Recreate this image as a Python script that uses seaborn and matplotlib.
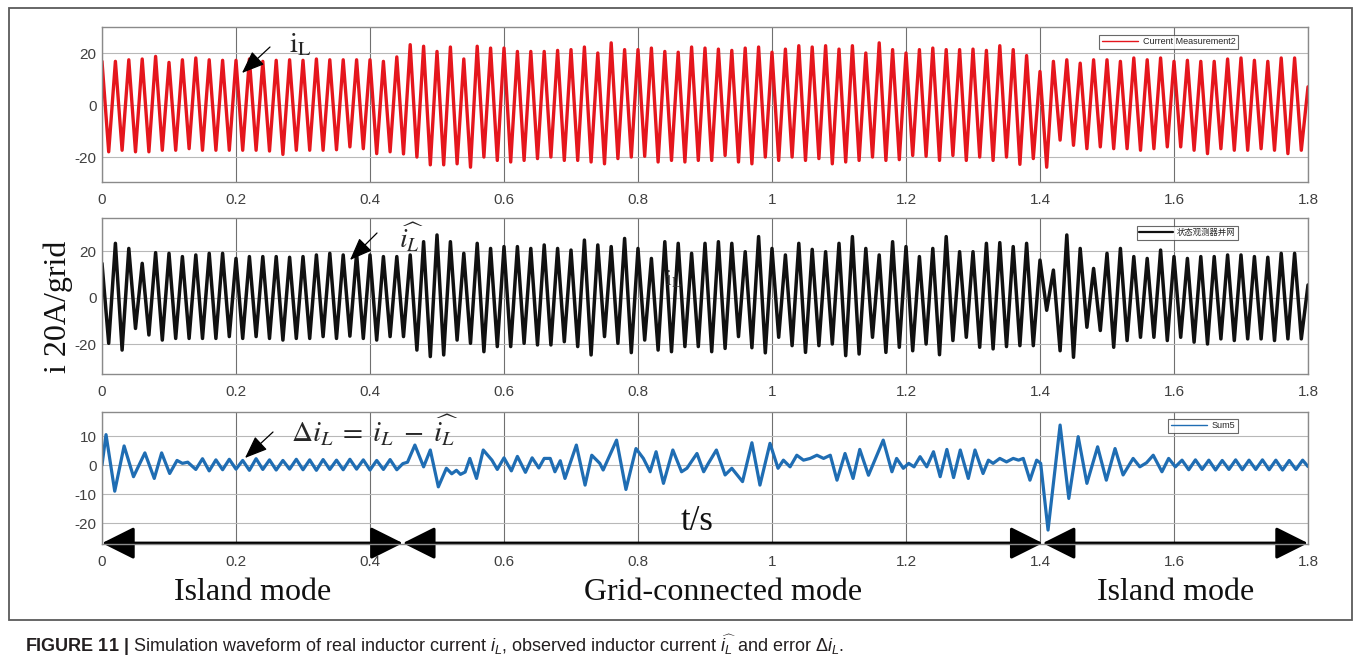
import numpy as np
import pandas as pd
import matplotlib
matplotlib.use("Agg")
import matplotlib.pyplot as plt
import seaborn as sns
from matplotlib.patches import FancyArrowPatch, Rectangle
from matplotlib.font_manager import FontProperties

# ---------------- data ----------------
half_cycle = 0.01  # extrema of the 50 Hz current come every half period

# real inductor current i_L: positive and negative peak of each cycle
iL_peaks = [16.8, 16.8, 17.4, 17.7, 18.7, 16.4, 17.4, 18.1, 17.4, 17.2, 17.2, 17.7, 16.8, 17.2, 17.4,
            17.2, 17.7, 17.4, 17.4, 17.4, 17.4, 16.8, 18.5,
            23.2, 22.6, 20.6, 22.3, 17.7, 22.6, 21.9, 21.9, 20.6, 20.6, 20.6, 21.0, 21.3, 22.3, 20.0,
            23.9, 21.3, 21.3, 21.9, 20.6, 20.3, 22.3, 21.9, 21.5, 21.0, 21.9, 22.3, 20.3, 21.5, 22.8,
            22.3, 22.8, 21.5, 22.8,
            20.0, 23.9, 21.3, 20.0, 21.3, 21.9, 21.3, 21.3, 21.5, 21.0, 22.8, 21.3, 19.0,
            12.9,
            16.8, 17.4, 16.1, 17.4, 17.4, 16.8, 18.1, 17.4, 18.1, 16.8, 17.2, 16.8, 16.8, 17.7, 18.1,
            17.2, 16.8, 18.1, 18.1]
iL_troughs = [-18.0, -17.4, -18.0, -18.0, -17.4, -17.4, -16.8, -17.4, -17.4, -17.4, -17.4, -17.4, -17.7,
              -19.0, -17.4, -17.4, -17.4, -17.2, -16.1, -16.8, -18.7,
              -18.0, -18.8, -20.0, -23.0, -23.0, -22.6, -23.9,
              -20.0, -21.3, -21.9, -21.3, -20.6, -20.0, -21.3, -21.3, -21.9, -22.6, -20.6, -20.0, -19.7,
              -21.9, -21.3, -21.9, -21.3, -21.3, -19.4, -21.9, -22.6, -20.0, -21.3, -20.0, -21.3, -20.6,
              -22.6, -21.9,
              -21.3, -20.0, -21.3, -21.0, -19.4, -19.7, -21.3, -19.4, -21.3, -20.0, -21.3, -20.0, -22.8,
              -20.6, -23.9,
              -13.5, -15.5, -16.8, -16.1, -16.8, -16.8, -17.4, -16.8, -16.1, -16.1, -17.4, -18.7, -16.8,
              -17.4, -17.4, -16.8, -17.4, -18.7, -17.4]
iL_end = 7.0

# observed inductor current
obs_peaks = [14.7, 23.3, 21.1, 14.7, 19.3, 19.0, 17.6, 18.3, 19.0, 19.0, 16.8, 17.6, 17.6, 17.6, 17.3,
             17.6, 18.3, 19.0, 18.3, 19.0, 18.3,
             17.6, 17.6, 18.3, 24.0, 26.9, 24.0, 19.0, 23.3, 21.1, 21.9, 21.9, 21.1, 22.6, 21.1, 20.4,
             24.7, 22.6, 21.9, 25.4, 21.1, 16.8, 24.0, 23.3, 19.0, 23.3, 24.0, 23.3, 19.7, 26.2, 21.1,
             18.3, 23.3, 20.7, 19.7, 23.3, 26.2, 21.1, 18.3, 24.0, 21.9, 17.6, 21.1, 26.2, 19.7, 19.7,
             23.3, 23.6, 21.9, 23.3,
             16.1, 11.8, 26.9, 21.1, 12.5, 19.0, 21.1, 17.6, 16.8, 20.4, 17.6, 16.8, 17.6, 17.6, 18.3,
             18.3, 17.6, 17.3, 19.0, 19.0]
obs_troughs = [-19.7, -22.6, -13.3, -16.1, -18.3, -17.6, -17.6, -17.6, -17.6, -16.8, -17.6, -16.8, -17.6,
               -18.3, -17.6, -17.6, -16.8, -17.6, -16.6, -17.6, -18.3,
               -16.8, -16.8, -22.6, -25.4, -24.7, -18.3, -19.7, -23.3, -21.1, -21.1, -19.7, -20.4, -20.4,
               -19.0, -21.1, -24.7, -16.8, -19.7, -23.7, -18.3, -22.6, -23.3, -21.1, -21.1, -23.3, -21.9,
               -16.8, -21.6, -23.8,
               -17.1, -20.7, -23.6, -20.7, -20.0, -25.0, -24.3, -17.1, -23.6, -21.4, -22.9, -20.0, -24.6,
               -18.5, -17.1, -21.4, -22.1, -21.1, -20.7, -20.7,
               -5.5, -22.9, -25.7, -12.8, -14.2, -21.4, -18.5, -17.1, -17.1, -18.5, -17.1, -19.2, -20.0,
               -17.8, -18.5, -17.8, -17.8, -18.5, -17.8, -17.8]
obs_end = 5.4

# estimation error: turning points (time in s, value in A)
err_t = [0.000, 0.006, 0.019, 0.033, 0.047, 0.064, 0.078, 0.089, 0.101, 0.112, 0.120, 0.128, 0.140,
         0.150, 0.160,
         0.170, 0.180, 0.190, 0.200, 0.210, 0.220, 0.230, 0.240, 0.250, 0.260, 0.270, 0.280, 0.290,
         0.300, 0.310, 0.320, 0.330, 0.340, 0.350, 0.360, 0.370, 0.380, 0.390, 0.400, 0.410, 0.420,
         0.430, 0.440,
         0.449, 0.456, 0.467, 0.480, 0.490, 0.502, 0.514, 0.522, 0.529, 0.535, 0.542, 0.549, 0.559,
         0.569, 0.582,
         0.590, 0.600, 0.611, 0.620, 0.632, 0.642, 0.652, 0.660,
         0.669, 0.676, 0.684, 0.691, 0.708, 0.721, 0.731, 0.743, 0.748, 0.768, 0.782, 0.797, 0.808,
         0.818, 0.827, 0.838, 0.852, 0.865, 0.873, 0.888, 0.898, 0.905, 0.917, 0.930, 0.940, 0.956,
         0.970, 0.982, 0.997, 1.009, 1.017, 1.027, 1.037, 1.047, 1.057, 1.067, 1.077, 1.087, 1.097,
         1.109, 1.121, 1.131, 1.144, 1.166, 1.179, 1.186, 1.196, 1.204, 1.212, 1.221, 1.231, 1.241,
         1.251, 1.261, 1.271, 1.281, 1.293, 1.303, 1.315, 1.323, 1.330, 1.340, 1.350, 1.360, 1.368,
         1.375, 1.385, 1.395, 1.401,
         1.412, 1.430, 1.443, 1.457, 1.470, 1.486, 1.499, 1.512, 1.524, 1.539, 1.549, 1.559, 1.569,
         1.582, 1.592, 1.602,
         1.612, 1.622, 1.632, 1.642, 1.652, 1.662, 1.672, 1.682, 1.692, 1.702, 1.712, 1.722, 1.732,
         1.742, 1.752, 1.762, 1.772, 1.782, 1.792, 1.800]
err_v = [0.0, 10.5, -9.0, 6.6, -4.0, 4.2, -4.6, 4.2, -2.9, 1.6, 0.6, 1.0, -1.5, 2.2, -2.0,
         1.8, -1.6, 2.0, -1.4, 1.6, -1.8, 2.2, -1.5, 1.8, -1.7, 1.6, -1.4, 2.0, -1.6, 1.8, -1.8, 1.9,
         -1.5, 1.7, -1.6, 2.0, -1.4, 1.8, -1.7, 1.6, -1.5, 1.9, -1.6,
         0.5, 1.0, 6.9, -0.6, 5.2, -7.5, -1.1, -3.0, -1.8, -3.2, -2.4, 2.3, -4.6,
         5.2, 1.7,
         -1.5, 2.5, -2.0, 3.0, -2.5, 2.5, -1.0, 2.3,
         2.3, -2.3, 1.5, -4.6, 6.9, -6.9, 3.4, 0.6, -1.7, 8.6, -8.4, 5.7, 2.3,
         -2.3, 4.6, -6.3, 5.2, -2.3, -1.1, 4.0, -2.3, 0.6, 5.2, -3.4, -1.1, -5.7,
         7.7, -6.9, 7.5, -1.1, 1.7, -0.6, 3.4, 1.7, 2.3, 3.4, 2.3, 3.4, -5.2,
         4.0, -4.6, 5.4, -3.5, 8.6, -2.3, 2.3, -1.1, 0.6, -0.6, 2.9, -0.6, 4.6,
         -4.0, 5.4, -4.3, 5.2, -4.6, 5.2, -2.9, 1.7, 0.6, 2.3, 1.1, 2.3, 1.7,
         2.3, -5.2, 1.7, 0.6,
         -22.4, 13.8, -11.5, 9.8, -6.3, 6.3, -5.2, 5.7, -3.4, 2.3, -0.6, 0.8, 3.4,
         -2.3, 2.3, -0.6,
         1.7, -1.6, 1.8, -1.5, 1.7, -1.7, 1.6, -1.5, 1.8, -1.6, 1.7, -1.5, 1.8,
         -1.6, 1.7, -1.7, 1.6, -1.5, 1.7, -0.5]

x_ticks = [0, 0.2, 0.4, 0.6, 0.8, 1.0, 1.2, 1.4, 1.6, 1.8]
x_tick_labels = ["0", "0.2", "0.4", "0.6", "0.8", "1", "1.2", "1.4", "1.6", "1.8"]
y_ticks_current = [-20, 0, 20]
y_ticks_error = [-20, -10, 0, 10]
mode_bounds = [0.0, 0.449, 1.404, 1.8]
mode_labels = ["Island mode", "Grid-connected mode", "Island mode"]
legend_labels = ["Current Measurement2", "状态观测器并网", "Sum5"]

# ---------------- styling ----------------
sns.set_theme(style="white")
plt.rcParams["font.family"] = ["Liberation Sans", "Noto Sans CJK SC", "DejaVu Sans"]
plt.rcParams["axes.unicode_minus"] = False
plt.rcParams["mathtext.fontset"] = "custom"
plt.rcParams["mathtext.rm"] = "Liberation Sans"
plt.rcParams["mathtext.it"] = "Liberation Sans:italic"
plt.rcParams["mathtext.bf"] = "Liberation Sans:bold"

W, H = 1355, 666
fig = plt.figure(figsize=(W / 100, H / 100), dpi=100)
fig.patch.set_facecolor("white")


def px(x, y):
    return (x / W, 1 - y / H)


def axes_box(left, top, right, bottom):
    return [left / W, 1 - bottom / H, (right - left) / W, (bottom - top) / H]


def extrema_frame(peaks, troughs, end):
    vals = np.empty(2 * len(peaks) + 1)
    vals[0:-1:2] = peaks
    vals[1:-1:2] = troughs
    vals[-1] = end
    return pd.DataFrame({"t": np.arange(len(vals)) * half_cycle, "i": vals})


ax1 = fig.add_axes(axes_box(102, 27, 1308, 182))
ax2 = fig.add_axes(axes_box(102, 218, 1308, 374))
ax3 = fig.add_axes(axes_box(102, 412, 1308, 544))

df1 = extrema_frame(iL_peaks, iL_troughs, iL_end)
df2 = extrema_frame(obs_peaks, obs_troughs, obs_end)
df3 = pd.DataFrame({"t": err_t, "i": err_v})

sns.lineplot(data=df1, x="t", y="i", ax=ax1, color="#e5161d", lw=2.4, estimator=None,
             label=legend_labels[0])
sns.lineplot(data=df2, x="t", y="i", ax=ax2, color="#111111", lw=2.5, estimator=None,
             label=legend_labels[1])
sns.lineplot(data=df3, x="t", y="i", ax=ax3, color="#1f6db3", lw=2.3, estimator=None,
             label=legend_labels[2])

limits = [(-29.6, 30.0), (-32.9, 34.2), (-27.2, 18.3)]
yticks = [y_ticks_current, y_ticks_current, y_ticks_error]
for ax, lim, yt in zip([ax1, ax2, ax3], limits, yticks):
    ax.set_xlim(0, 1.8)
    ax.set_ylim(*lim)
    ax.set_xticks(x_ticks)
    ax.set_xticklabels(x_tick_labels)
    ax.set_yticks(yt)
    ax.set_xlabel("")
    ax.set_ylabel("")
    ax.set_axisbelow(True)
    ax.xaxis.grid(True, color="#707070", lw=0.8)
    ax.yaxis.grid(True, color="#b8b8b8", lw=0.8)
    ax.tick_params(axis="both", length=0, labelsize=11, colors="#404040")
    ax.tick_params(axis="x", pad=8)
    ax.tick_params(axis="y", pad=4)
    for s in ax.spines.values():
        s.set_color("#8a8a8a")
        s.set_linewidth(1.0)

legend_widths = [1.0, 1.6, 1.0]
legend_fonts = [FontProperties(family="Liberation Sans", size=6.5),
                FontProperties(family="Noto Sans CJK SC", size=6.0),
                FontProperties(family="Liberation Sans", size=6.5)]
for ax, lw, fp in zip([ax1, ax2, ax3], legend_widths, legend_fonts):
    leg = ax.legend(loc="upper right", bbox_to_anchor=(0.942, 0.95), prop=fp, frameon=True,
                    fancybox=False, edgecolor="#444444", handlelength=4.0, borderpad=0.3,
                    handletextpad=0.5, borderaxespad=0)
    leg.get_frame().set_linewidth(0.8)
    for line in leg.get_lines():
        line.set_linewidth(lw)

# operating mode spans under the error trace
y_arrow = -26.9
for a, b in zip(mode_bounds[:-1], mode_bounds[1:]):
    arr = FancyArrowPatch((a, y_arrow), (b, y_arrow),
                          arrowstyle="<|-|>,head_length=2.0,head_width=1.0",
                          mutation_scale=10, lw=2.2, color="black",
                          shrinkA=0, shrinkB=0, transform=ax3.transData, clip_on=False)
    ax3.add_artist(arr)

serif = "Liberation Serif"
for (a, b), lab in zip(zip(mode_bounds[:-1], mode_bounds[1:]), mode_labels):
    ax3.text((a + b) / 2, -0.37, lab, transform=ax3.get_xaxis_transform(),
             family=serif, fontsize=23, ha="center", va="center", color="#111111")

fig.text(*px(58, 307), "i 20A/grid", rotation=90, family=serif, fontsize=23,
         ha="center", va="center", color="#111111")
fig.text(*px(697, 522), "t/s", family=serif, fontsize=25, ha="center", va="center",
         color="#111111")

# trace labels with pointers
fig.text(*px(300, 44), r"$\mathrm{i}_{\mathrm{L}}$", fontsize=21, ha="center", va="center",
         math_fontfamily="stix")
fig.text(*px(411, 238), r"$\widehat{i_L}$", fontsize=20, ha="center", va="center",
         math_fontfamily="stix")
fig.text(*px(673, 279), r"$\mathrm{i}_{\mathrm{L}}$", fontsize=15, ha="center", va="center",
         math_fontfamily="stix", color="#333333")
fig.text(*px(375, 431), r"$\Delta i_L\;=\;i_L\;-\;\widehat{i_L}$", fontsize=21, ha="center",
         va="center", math_fontfamily="stix")

for tail, tip in [((270, 47), (242, 73)), ((377, 233), (350, 260)), ((273, 432), (245, 458))]:
    fig.add_artist(FancyArrowPatch(px(*tail), px(*tip), transform=fig.transFigure,
                                   arrowstyle="-|>,head_length=1.4,head_width=0.55",
                                   mutation_scale=10, lw=0.9, color="black",
                                   shrinkA=0, shrinkB=0))

# outer frame and caption
fig.add_artist(Rectangle(px(9, 620), (1352 - 9) / W, (620 - 8) / H, transform=fig.transFigure,
                         fill=False, edgecolor="#5a5a5a", lw=1.3))
fig.text(*px(25, 645),
         r"$\mathbf{FIGURE\ 11\ |}$ Simulation waveform of real inductor current $i_L$, "
         r"observed inductor current $\widehat{i_L}$ and error $\Delta i_L$.",
         family="Liberation Sans", fontsize=13, va="center", ha="left", color="#231f20")

fig.savefig("out.png", dpi=100, facecolor="white")
